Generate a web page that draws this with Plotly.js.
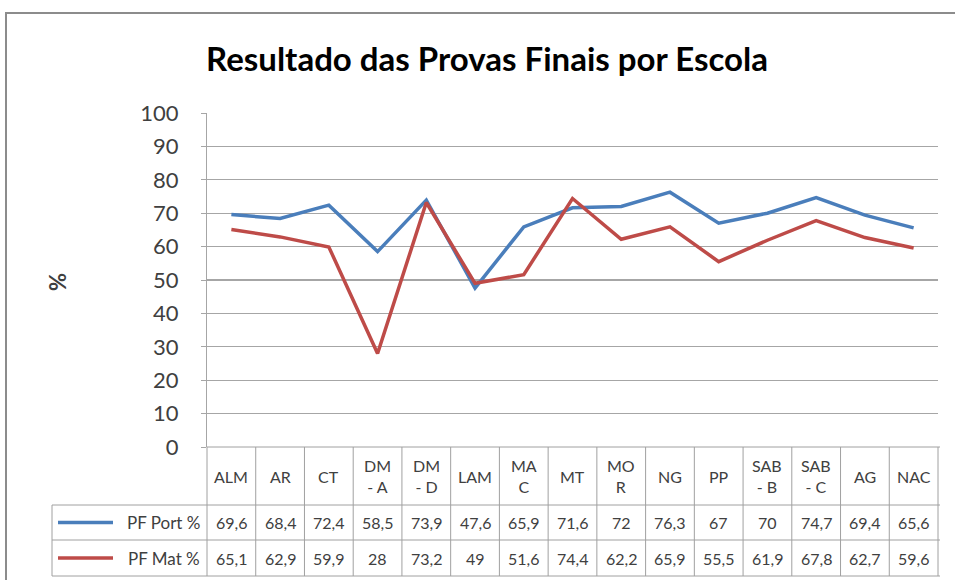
<!DOCTYPE html>
<html>
<head>
<meta charset="utf-8">
<script src="https://cdn.plot.ly/plotly-3.0.1.min.js"></script>
<style>html,body{margin:0;padding:0;background:#fff;}#chart{width:955px;height:580px;}</style>
</head>
<body>
<div id="chart"></div>
<script>
// ---- data ----
const categories = ["ALM","AR","CT","DM - A","DM - D","LAM","MAC","MT","MOR","NG","PP","SAB - B","SAB - C","AG","NAC"];
const headerLabels = ["ALM","AR","CT","DM<br>- A","DM<br>- D","LAM","MA<br>C","MT","MO<br>R","NG","PP","SAB<br>- B","SAB<br>- C","AG","NAC"];
const pfPort = [69.6,68.4,72.4,58.5,73.9,47.6,65.9,71.6,72,76.3,67,70,74.7,69.4,65.6];
const pfMat  = [65.1,62.9,59.9,28,73.2,49,51.6,74.4,62.2,65.9,55.5,61.9,67.8,62.7,59.6];
const seriesNames = ["PF Port %","PF Mat %"];
const yTicks = [0,10,20,30,40,50,60,70,80,90,100];

// ---- styling / geometry ----
const W = 955, H = 580;
const FONT = "Lato, 'Open Sans', sans-serif";
const TXT = "#404040";
const GRID = "#A6A6A6";
const TBL = "#A0A0A0";
const colors = ["#4A7EBB", "#BE4B48"];
const px = x => x / W;            // pixel x -> paper
const py = y => (H - y) / H;      // pixel y -> paper

const plotL = 207, plotR = 938, plotT = 113, plotB = 447;
const tableRight = 940, legendLeft = 52;
const rowTops = [447, 505, 540, 576]; // header, row1, row2 boundaries

const traces = [pfPort, pfMat].map((vals, i) => ({
  type: "scatter", mode: "lines", x: categories, y: vals, name: seriesNames[i],
  line: {color: colors[i], width: 3.5}, hoverinfo: "x+y"
}));

const shapes = [];
const annotations = [];
const lineStyle = {color: TBL, width: 1};

// outer chart border
shapes.push({type: "rect", xref: "paper", yref: "paper", x0: px(6), x1: px(W + 20), y0: py(H + 20), y1: py(13),
  line: {color: "#8C8C8C", width: 2}, fillcolor: "rgba(0,0,0,0)", layer: "below"});

// table horizontal lines
shapes.push({type: "line", xref: "paper", yref: "paper", x0: px(plotL), x1: px(tableRight), y0: py(rowTops[0]), y1: py(rowTops[0]), line: lineStyle});
for (let r = 1; r < rowTops.length; r++) {
  shapes.push({type: "line", xref: "paper", yref: "paper", x0: px(legendLeft), x1: px(tableRight), y0: py(rowTops[r]), y1: py(rowTops[r]), line: lineStyle});
}
// legend column left border
shapes.push({type: "line", xref: "paper", yref: "paper", x0: px(legendLeft), x1: px(legendLeft), y0: py(rowTops[1]), y1: py(rowTops[3]), line: lineStyle});
// column boundaries
const n = categories.length;
for (let k = 0; k <= n; k++) {
  shapes.push({type: "line", xref: "x domain", yref: "paper", x0: k / n, x1: k / n, y0: py(rowTops[0]), y1: py(rowTops[3]), line: lineStyle});
}

// header labels
headerLabels.forEach((lab, i) => {
  annotations.push({xref: "x", yref: "paper", x: categories[i], y: py((rowTops[0] + rowTops[1]) / 2),
    text: lab, showarrow: false, xanchor: "center", yanchor: "middle",
    font: {family: FONT, size: 16, color: TXT}});
});
// value rows + legend keys
[pfPort, pfMat].forEach((vals, r) => {
  const yc = py((rowTops[r + 1] + rowTops[r + 2]) / 2);
  vals.forEach((v, i) => {
    annotations.push({xref: "x", yref: "paper", x: categories[i], y: yc,
      text: String(v).replace(".", ","), showarrow: false, xanchor: "center", yanchor: "middle",
      font: {family: FONT, size: 16, color: TXT}});
  });
  shapes.push({type: "line", xref: "paper", yref: "paper", x0: px(58), x1: px(113), y0: yc, y1: yc,
    line: {color: colors[r], width: 3.5}});
  annotations.push({xref: "paper", yref: "paper", x: px(202), y: yc, text: seriesNames[r],
    showarrow: false, xanchor: "right", yanchor: "middle",
    font: {family: FONT, size: 17, color: TXT}});
});

// y-axis title "%"
annotations.push({xref: "paper", yref: "paper", x: px(57), y: py(282), text: "<b>%</b>", textangle: -90,
  showarrow: false, xanchor: "center", yanchor: "middle", font: {family: FONT, size: 22, color: TXT}});

const layout = {
  width: W, height: H,
  margin: {l: 0, r: 0, t: 0, b: 0},
  paper_bgcolor: "#fff", plot_bgcolor: "#fff",
  showlegend: false,
  title: {text: "<b>Resultado das Provas Finais por Escola</b>", x: px(487), xanchor: "center",
    y: py(59), yanchor: "middle", font: {family: FONT, size: 33, color: "#000"}},
  xaxis: {type: "category", domain: [px(plotL), px(plotR)], range: [-0.5, n - 0.5],
    showticklabels: false, showgrid: false, zeroline: false, showline: false, ticks: "", fixedrange: true},
  yaxis: {domain: [py(plotB), py(plotT)], range: [0, 100], tickvals: yTicks, ticktext: yTicks.map(String),
    showgrid: true, gridcolor: GRID, gridwidth: 1.2, zeroline: false,
    showline: true, linecolor: GRID, linewidth: 1, ticks: "outside", ticklen: 5, tickcolor: GRID,
    ticklabelstandoff: 18, tickfont: {family: FONT, size: 22, color: TXT}, fixedrange: true},
  shapes: shapes,
  annotations: annotations
};

Plotly.newPlot("chart", traces, layout, {displayModeBar: false, staticPlot: true});
</script>
</body>
</html>
